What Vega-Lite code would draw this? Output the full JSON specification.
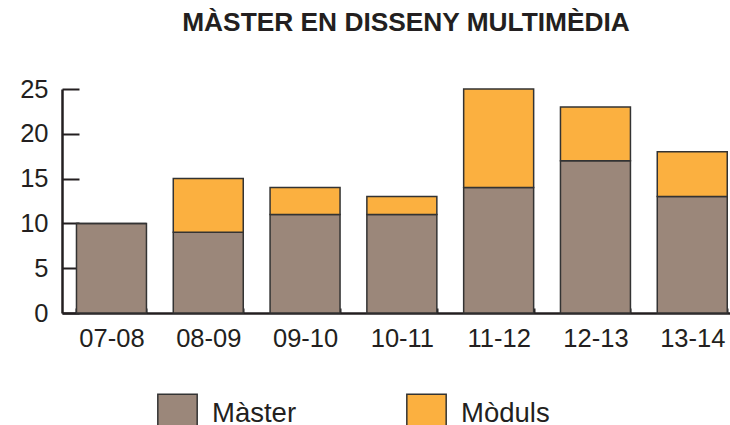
{
  "$schema": "https://vega.github.io/schema/vega-lite/v6.json",
  "autosize": "none",
  "padding": {"left": 62, "top": 89, "right": 0, "bottom": 112},
  "width": 668,
  "height": 224,
  "background": "white",
  "title": {
    "text": "MÀSTER EN DISSENY MULTIMÈDIA",
    "font": "Liberation Sans",
    "fontSize": 26.3,
    "fontWeight": "bold",
    "color": "#231f20",
    "anchor": "middle",
    "frame": "group",
    "baseline": "alphabetic",
    "offset": 20,
    "dx": 10
  },
  "data": {
    "values": [
      {"curs": "07-08", "tipus": "Màster", "alumnes": 10},
      {"curs": "07-08", "tipus": "Mòduls", "alumnes": 0},
      {"curs": "08-09", "tipus": "Màster", "alumnes": 9},
      {"curs": "08-09", "tipus": "Mòduls", "alumnes": 6},
      {"curs": "09-10", "tipus": "Màster", "alumnes": 11},
      {"curs": "09-10", "tipus": "Mòduls", "alumnes": 3},
      {"curs": "10-11", "tipus": "Màster", "alumnes": 11},
      {"curs": "10-11", "tipus": "Mòduls", "alumnes": 2},
      {"curs": "11-12", "tipus": "Màster", "alumnes": 14},
      {"curs": "11-12", "tipus": "Mòduls", "alumnes": 11},
      {"curs": "12-13", "tipus": "Màster", "alumnes": 17},
      {"curs": "12-13", "tipus": "Mòduls", "alumnes": 6},
      {"curs": "13-14", "tipus": "Màster", "alumnes": 13},
      {"curs": "13-14", "tipus": "Mòduls", "alumnes": 5}
    ]
  },
  "mark": {"type": "bar", "stroke": "#333333", "strokeWidth": 1.5},
  "encoding": {
    "x": {
      "field": "curs",
      "type": "nominal",
      "sort": null,
      "scale": {"paddingInner": 0.277, "paddingOuter": 0.089, "align": 0.84},
      "axis": {
        "title": null,
        "labelAngle": 0,
        "labelFont": "Liberation Sans",
        "labelFontSize": 25.5,
        "labelColor": "#231f20",
        "labelBaseline": "top",
        "labelPadding": 18,
        "tickBand": "extent",
        "tickSize": -5,
        "tickWidth": 2,
        "tickColor": "#231f20",
        "domainColor": "#231f20",
        "domainWidth": 2.5,
        "grid": false
      }
    },
    "y": {
      "field": "alumnes",
      "type": "quantitative",
      "stack": "zero",
      "scale": {"domain": [0, 25], "nice": false},
      "axis": {
        "title": null,
        "values": [0, 5, 10, 15, 20, 25],
        "labelFont": "Liberation Sans",
        "labelFontSize": 25.5,
        "labelColor": "#231f20",
        "labelPadding": 31,
        "tickSize": -17,
        "tickWidth": 2,
        "tickColor": "#231f20",
        "domainColor": "#231f20",
        "domainWidth": 2.5,
        "grid": false
      }
    },
    "color": {
      "field": "tipus",
      "type": "nominal",
      "scale": {"domain": ["Màster", "Mòduls"], "range": ["#9b877a", "#fbb040"]},
      "legend": {
        "title": null,
        "orient": "none",
        "direction": "horizontal",
        "legendX": 95,
        "legendY": 304,
        "symbolType": "square",
        "symbolSize": 1550,
        "symbolStrokeColor": "#333333",
        "symbolStrokeWidth": 1.5,
        "symbolOpacity": 1,
        "labelFont": "Liberation Sans",
        "labelFontSize": 27.5,
        "labelColor": "#231f20",
        "labelOffset": 14,
        "columnPadding": 106,
        "labelLimit": 200
      }
    },
    "order": {"field": "tipus", "sort": "ascending"}
  },
  "config": {"view": {"stroke": null}}
}
